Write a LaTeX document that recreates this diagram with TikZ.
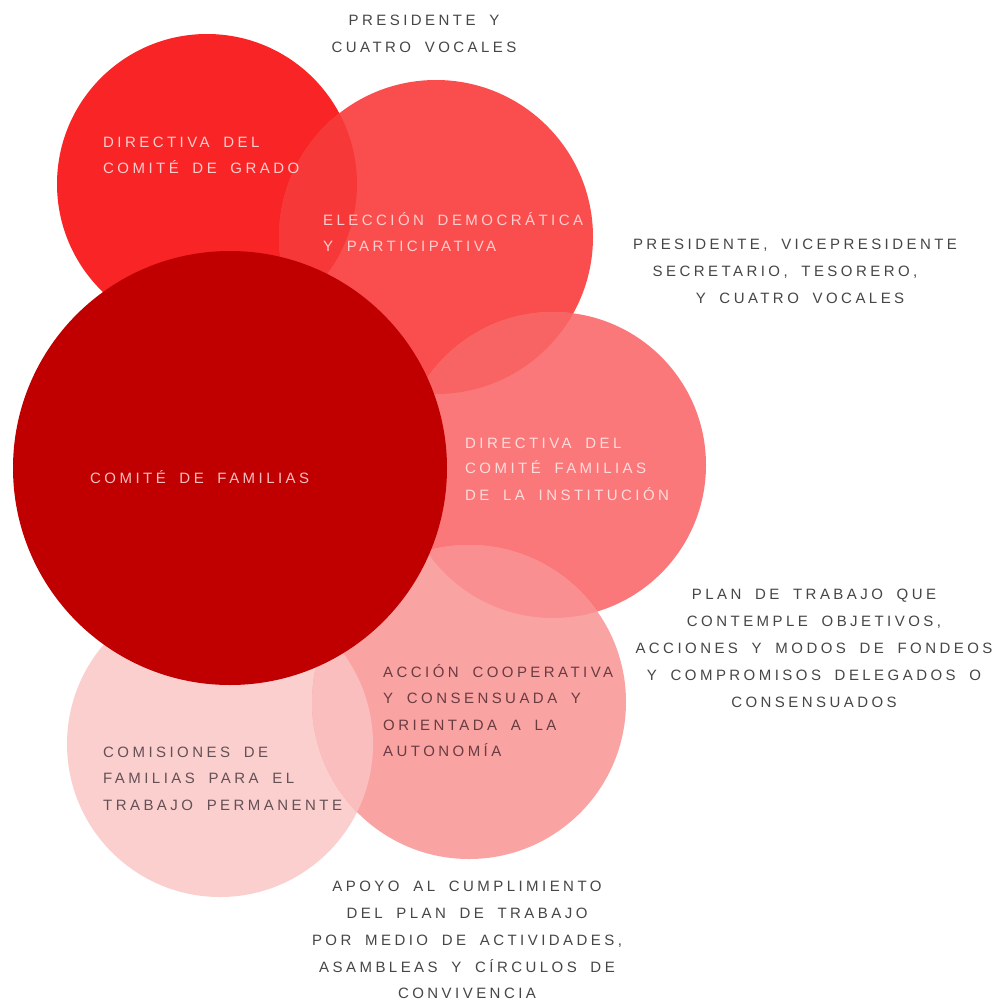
\documentclass[tikz,border=0pt]{standalone}
\usepackage{fontspec}
\newfontfamily\lblfont[LetterSpace=23,WordSpace=1.8]{Liberation Sans}
\definecolor{cOne}{RGB}{248,36,38}
\definecolor{cTwo}{RGB}{250,78,78}
\definecolor{cOneTwo}{RGB}{246,56,56}
\definecolor{cFour}{RGB}{250,120,122}
\definecolor{cTwoFour}{RGB}{248,100,100}
\definecolor{cFive}{RGB}{250,163,163}
\definecolor{cFourFive}{RGB}{250,143,145}
\definecolor{cSix}{RGB}{252,207,207}
\definecolor{cFiveSix}{RGB}{251,190,190}
\definecolor{cBig}{RGB}{192,0,0}
\definecolor{tLightA}{RGB}{255,205,205}
\definecolor{tLightB}{RGB}{255,220,220}
\definecolor{tBig}{RGB}{245,190,190}
\definecolor{tDarkA}{RGB}{105,60,65}
\definecolor{tDarkB}{RGB}{100,80,85}
\definecolor{tOut}{RGB}{70,70,70}
\begin{document}
\begin{tikzpicture}[x=1pt,y=-1pt,
  lbl/.style={font={\lblfont\fontsize{15}{18}\selectfont}, inner sep=0pt},
  leftlbl/.style={lbl, anchor=base west},
  midlbl/.style={lbl, anchor=base, text=tOut}]
\useasboundingbox (0,0) rectangle (995,1001);
\fill[white] (0,0) rectangle (995,1001);
% circles
\fill[cOne] (207,184) circle[radius=150pt];
\fill[cTwo] (436,237) circle[radius=157pt];
\begin{scope}
  \clip (207,184) circle[radius=150pt];
  \fill[cOneTwo] (436,237) circle[radius=157pt];
\end{scope}
\fill[cFour] (553,465) circle[radius=153pt];
\begin{scope}
  \clip (436,237) circle[radius=157pt];
  \fill[cTwoFour] (553,465) circle[radius=153pt];
\end{scope}
\fill[cSix] (220,744) circle[radius=153pt];
\fill[cFive] (469,702) circle[radius=157pt];
\begin{scope}
  \clip (220,744) circle[radius=153pt];
  \fill[cFiveSix] (469,702) circle[radius=157pt];
\end{scope}
\begin{scope}
  \clip (553,465) circle[radius=153pt];
  \fill[cFourFive] (469,702) circle[radius=157pt];
\end{scope}
\fill[cBig] (230,468) circle[radius=217pt];
% top text
\node[midlbl] (topa) at (424,25) {PRESIDENTE Y};
\node[midlbl] (topb) at (424,52) {CUATRO VOCALES};
% circle 1
\node[leftlbl, text=tLightA] (onea) at (103,147) {DIRECTIVA DEL};
\node[leftlbl, text=tLightA] (oneb) at (103,173) {COMITÉ DE GRADO};
% circle 2
\node[leftlbl, text=tLightA] (twoa) at (323,225) {ELECCIÓN DEMOCRÁTICA};
\node[leftlbl, text=tLightA] (twob) at (323,251) {Y PARTICIPATIVA};
% right block 1
\node[midlbl] (ra) at (795,249) {PRESIDENTE, VICEPRESIDENTE};
\node[midlbl] (rb) at (785,276) {SECRETARIO, TESORERO,};
\node[midlbl] (rc) at (800,303) {Y CUATRO VOCALES};
% big circle
\node[leftlbl, text=tBig] (biga) at (90,483) {COMITÉ DE FAMILIAS};
% circle 4
\node[leftlbl, text=tLightB] (foura) at (465,448) {DIRECTIVA DEL};
\node[leftlbl, text=tLightB] (fourb) at (465,473) {COMITÉ FAMILIAS};
\node[leftlbl, text=tLightB] (fourc) at (465,500) {DE LA INSTITUCIÓN};
% right block 2
\node[midlbl] (pa) at (814,599) {PLAN DE TRABAJO QUE};
\node[midlbl] (pb) at (814,626) {CONTEMPLE OBJETIVOS,};
\node[midlbl] (pc) at (814,653) {ACCIONES Y MODOS DE FONDEOS};
\node[midlbl] (pd) at (814,680) {Y COMPROMISOS DELEGADOS O};
\node[midlbl] (pe) at (814,707) {CONSENSUADOS};
% circle 5
\node[leftlbl, text=tDarkA] (fivea) at (383,677) {ACCIÓN COOPERATIVA};
\node[leftlbl, text=tDarkA] (fiveb) at (383,703) {Y CONSENSUADA Y};
\node[leftlbl, text=tDarkA] (fivec) at (383,730) {ORIENTADA A LA};
\node[leftlbl, text=tDarkA] (fived) at (383,756) {AUTONOMÍA};
% circle 6
\node[leftlbl, text=tDarkB] (sixa) at (103,757) {COMISIONES DE};
\node[leftlbl, text=tDarkB] (sixb) at (103,783) {FAMILIAS PARA EL};
\node[leftlbl, text=tDarkB] (sixc) at (103,810) {TRABAJO PERMANENTE};
% bottom block
\node[midlbl] (ba) at (467,891) {APOYO AL CUMPLIMIENTO};
\node[midlbl] (bb) at (467,918) {DEL PLAN DE TRABAJO};
\node[midlbl] (bc) at (467,945) {POR MEDIO DE ACTIVIDADES,};
\node[midlbl] (bd) at (467,972) {ASAMBLEAS Y CÍRCULOS DE};
\node[midlbl] (be) at (467,998) {CONVIVENCIA};
\end{tikzpicture}
\end{document}
